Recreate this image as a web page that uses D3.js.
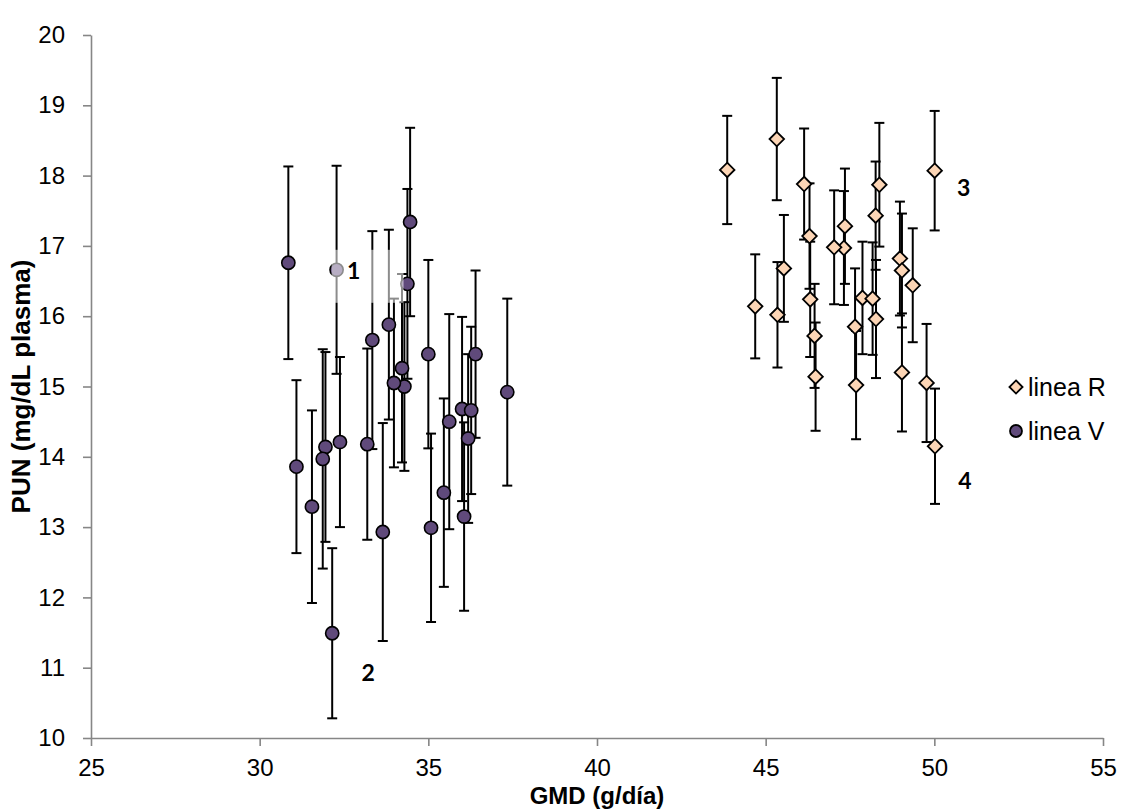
<!DOCTYPE html>
<html>
<head>
<meta charset="utf-8">
<script src="https://cdn.jsdelivr.net/npm/d3@7"></script>
<style>
  body { margin: 0; background: #ffffff; }
  svg { display: block; }
</style>
</head>
<body>
<svg id="chart" width="1121" height="809"></svg>
<script>
// ---- data -------------------------------------------------------------
// linea R: GMD (g/día), PUN (mg/dL plasma), error (±)
const lineaR_GMD = [43.86, 45.33, 46.14, 50.01, 48.37, 48.26, 47.35, 47.32, 47.03, 46.30,
                    45.54, 48.98, 49.04, 49.36, 47.87, 48.17, 44.69, 45.35, 46.32, 46.45,
                    46.48, 47.65, 47.68, 48.27, 49.04, 49.77, 50.02];
const lineaR_PUN = [18.08, 18.52, 17.88, 18.07, 17.87, 17.43, 17.28, 16.97, 16.98, 17.14,
                    16.68, 16.82, 16.65, 16.44, 16.26, 16.25, 16.14, 16.02, 16.24, 15.72,
                    15.14, 15.85, 15.02, 15.96, 15.20, 15.05, 14.15];
const lineaR_err = [0.77, 0.87, 0.79, 0.85, 0.88, 0.77, 0.82, 0.81, 0.81, 0.75,
                    0.76, 0.81, 0.81, 0.81, 0.80, 0.80, 0.74, 0.75, 0.82, 0.74,
                    0.77, 0.83, 0.77, 0.84, 0.84, 0.84, 0.82];

// linea V
const lineaV_GMD = [30.85, 32.28, 32.38, 33.34, 33.19, 33.83, 34.46, 34.38, 34.22, 34.29,
                    33.98, 35.00, 35.62, 36.00, 36.27, 36.40, 37.34, 31.09, 31.55, 31.95,
                    31.87, 32.15, 33.65, 35.08, 35.46, 36.06, 36.18];
const lineaV_PUN = [16.76, 16.66, 14.21, 15.66, 14.18, 15.88, 17.34, 16.46, 15.26, 15.00,
                    15.05, 15.46, 14.50, 14.68, 14.66, 15.46, 14.92, 13.86, 13.29, 14.14,
                    13.97, 11.49, 12.93, 12.99, 13.49, 13.15, 14.26];
const lineaV_err = [1.37, 1.48, 1.21, 1.55, 1.36, 1.35, 1.34, 1.35, 1.34, 1.20,
                    1.20, 1.34, 1.53, 1.31, 1.19, 1.19, 1.33, 1.23, 1.37, 1.35,
                    1.56, 1.21, 1.55, 1.34, 1.34, 1.34, 1.20];

const seriesNames = ["linea R", "linea V"];
const xTicks = [25, 30, 35, 40, 45, 50, 55];
const yTicks = [10, 11, 12, 13, 14, 15, 16, 17, 18, 19, 20];
const xTitle = "GMD (g/día)";
const yTitle = "PUN (mg/dL plasma)";

// numbered call-outs: series, point index, label
const calloutSeries = ["V", "V", "R", "R"];
const calloutIndex  = [1, 21, 3, 26];
const calloutText   = ["1", "2", "3", "4"];

// ---- layout -----------------------------------------------------------
const svg = d3.select("#chart");
const plot = { left: 91, right: 1103, top: 35, bottom: 738 };

const x = d3.scaleLinear().domain([25, 55]).range([plot.left, plot.right]);
const y = d3.scaleLinear().domain([10, 20]).range([plot.bottom, plot.top]);

const axisColor = "#868686";
const tickFont = "Liberation Sans, Arial, sans-serif";

function rows(gx, gy, ge) {
  return gx.map((v, i) => ({ x: v, y: gy[i], e: ge[i] }));
}
const dataR = rows(lineaR_GMD, lineaR_PUN, lineaR_err);
const dataV = rows(lineaV_GMD, lineaV_PUN, lineaV_err);

// ---- axes -------------------------------------------------------------
const xAxis = svg.append("g")
  .attr("transform", `translate(0,${plot.bottom})`)
  .call(d3.axisBottom(x).tickValues(xTicks).tickSize(8).tickPadding(13).tickSizeOuter(0));
const yAxis = svg.append("g")
  .attr("transform", `translate(${plot.left},0)`)
  .call(d3.axisLeft(y).tickValues(yTicks).tickSize(8).tickPadding(18).tickSizeOuter(0));

[xAxis, yAxis].forEach(g => {
  g.select(".domain").attr("stroke", axisColor).attr("stroke-width", 1.6);
  g.selectAll(".tick line").attr("stroke", axisColor).attr("stroke-width", 1.6);
  g.selectAll(".tick text")
    .attr("fill", "#000")
    .style("font-family", tickFont)
    .style("font-size", "24px");
});

svg.append("text")
  .attr("x", (plot.left + plot.right) / 2)
  .attr("y", 803.5)
  .attr("text-anchor", "middle")
  .style("font-family", tickFont)
  .style("font-weight", "bold")
  .style("font-size", "24px")
  .text(xTitle);

svg.append("text")
  .attr("transform", `translate(30,${(plot.top + plot.bottom) / 2}) rotate(-90)`)
  .attr("text-anchor", "middle")
  .style("font-family", tickFont)
  .style("font-weight", "bold")
  .style("font-size", "26px")
  .text(yTitle);

// ---- error bars + markers ----------------------------------------------
const capHalf = 5;
const diamond = d3.symbol().type(d3.symbolDiamond2).size(135);

function drawErrorBars(data) {
  const g = svg.append("g").attr("stroke", "#000").attr("stroke-width", 2);
  data.forEach(d => {
    const cx = x(d.x), y0 = y(d.y - d.e), y1 = y(d.y + d.e);
    g.append("line").attr("x1", cx).attr("x2", cx).attr("y1", y0).attr("y2", y1);
    g.append("line").attr("x1", cx - capHalf).attr("x2", cx + capHalf).attr("y1", y0).attr("y2", y0);
    g.append("line").attr("x1", cx - capHalf).attr("x2", cx + capHalf).attr("y1", y1).attr("y2", y1);
  });
}

const fillR = "#FCD5B5";
const fillV = "#604A7B";

drawErrorBars(dataR);
svg.append("g").selectAll("path").data(dataR).join("path")
  .attr("d", diamond)
  .attr("transform", d => `translate(${x(d.x)},${y(d.y)})`)
  .attr("fill", fillR).attr("stroke", "#000").attr("stroke-width", 1.8);

drawErrorBars(dataV);
svg.append("g").selectAll("circle").data(dataV).join("circle")
  .attr("cx", d => x(d.x)).attr("cy", d => y(d.y)).attr("r", 6.6)
  .attr("fill", fillV).attr("stroke", "#000").attr("stroke-width", 1.6);

// ---- call-out labels ----------------------------------------------------
const calloutOffset = [[17, 0], [36, 39], [29, 16], [30, 34]];
calloutText.forEach((t, i) => {
  const d = (calloutSeries[i] === "R" ? dataR : dataV)[calloutIndex[i]];
  const px = x(d.x) + calloutOffset[i][0];
  const py = y(d.y) + calloutOffset[i][1];
  if (i === 0) {
    // translucent text box behind the first call-out
    svg.append("rect")
      .attr("x", px - 22).attr("y", py - 20).attr("width", 72).attr("height", 53)
      .attr("fill", "#fff").attr("fill-opacity", 0.55);
  }
  svg.append("text")
    .attr("x", px).attr("y", py)
    .attr("text-anchor", "middle").attr("dominant-baseline", "central")
    .style("font-family", "Lato, 'Open Sans', sans-serif")
    .style("font-weight", "bold")
    .style("font-size", "23px")
    .text(t);
});

// ---- legend ------------------------------------------------------------
const legend = svg.append("g").attr("transform", "translate(1016,0)");
const legendY = [387, 431];
legend.append("path")
  .attr("d", d3.symbol().type(d3.symbolDiamond2).size(110))
  .attr("transform", `translate(0,${legendY[0]})`)
  .attr("fill", fillR).attr("stroke", "#000").attr("stroke-width", 1.8);
legend.append("circle")
  .attr("cx", 0).attr("cy", legendY[1]).attr("r", 6)
  .attr("fill", fillV).attr("stroke", "#000").attr("stroke-width", 1.8);
seriesNames.forEach((n, i) => {
  legend.append("text")
    .attr("x", 12).attr("y", legendY[i])
    .attr("dominant-baseline", "central")
    .style("font-family", tickFont)
    .style("font-size", "25px")
    .text(n);
});
</script>
</body>
</html>
